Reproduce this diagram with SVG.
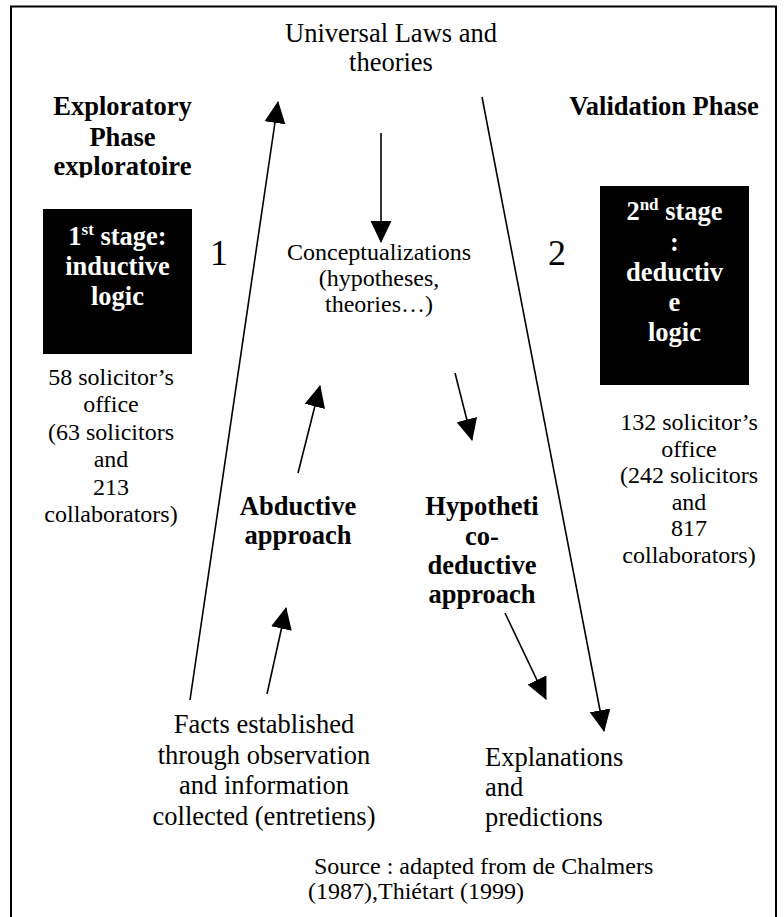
<svg xmlns="http://www.w3.org/2000/svg" width="784" height="917" viewBox="0 0 784 917" font-family="'Liberation Serif', 'Times New Roman', serif">
<style>
text{font-family:"Liberation Serif","Times New Roman",serif;fill:#000}
.t{font-size:26.5px}
.s{font-size:24px}
.b{font-size:26.5px;font-weight:bold}
.w{font-size:26.5px;font-weight:bold;fill:#fff}
.big{font-size:36px}
.m{text-anchor:middle}
.ln{stroke:#000;stroke-width:1.6;fill:none}
</style>
<defs>
<marker id="ah" markerUnits="userSpaceOnUse" markerWidth="22" markerHeight="22" refX="21" refY="10.5" orient="auto" viewBox="0 0 22 21">
<path d="M0,0 L22,10.5 L0,21 Z" fill="#000"/>
</marker>
<clipPath id="clipExp"><rect x="0" y="0" width="300" height="177.5"/></clipPath>
</defs>
<rect x="11" y="6.5" width="765" height="1000" fill="#fff" stroke="#000" stroke-width="2"/>

<g id="universal">
<text class="t m" x="391" y="42">Universal Laws and</text>
<text class="t m" x="391" y="71">theories</text>
</g>

<g id="exploratory" clip-path="url(#clipExp)">
<text class="b m" x="122.5" y="115">Exploratory</text>
<text class="b m" x="122.5" y="146">Phase</text>
<text class="b m" x="122.5" y="175">exploratoire</text>
</g>

<g id="validation">
<text class="b m" x="664" y="115">Validation Phase</text>
</g>

<g id="stage1">
<rect x="43" y="209" width="149" height="145" fill="#000"/>
<text class="w m" x="117.5" y="245">1<tspan font-size="17" dy="-10">st</tspan><tspan dy="10"> stage:</tspan></text>
<text class="w m" x="117.5" y="275">inductive</text>
<text class="w m" x="117.5" y="305">logic</text>
</g>

<g id="num1"><text class="big m" x="219" y="265">1</text></g>
<g id="num2"><text class="big m" x="557" y="265">2</text></g>

<g id="stage2">
<rect x="600" y="186" width="149" height="199" fill="#000"/>
<text class="w m" x="674.5" y="220">2<tspan font-size="17" dy="-10">nd</tspan><tspan dy="10"> stage</tspan></text>
<text class="w m" x="674.5" y="251">:</text>
<text class="w m" x="674.5" y="281">deductiv</text>
<text class="w m" x="674.5" y="311">e</text>
<text class="w m" x="674.5" y="341">logic</text>
</g>

<g id="sample1">
<text class="s m" x="111" y="385">58 solicitor’s</text>
<text class="s m" x="111" y="412.4">office</text>
<text class="s m" x="111" y="439.8">(63 solicitors</text>
<text class="s m" x="111" y="467.2">and</text>
<text class="s m" x="111" y="494.6">213</text>
<text class="s m" x="111" y="522">collaborators)</text>
</g>

<g id="sample2">
<text class="s m" x="689" y="430">132 solicitor’s</text>
<text class="s m" x="689" y="456.6">office</text>
<text class="s m" x="689" y="483.2">(242 solicitors</text>
<text class="s m" x="689" y="509.8">and</text>
<text class="s m" x="689" y="536.4">817</text>
<text class="s m" x="689" y="563">collaborators)</text>
</g>

<g id="conceptualizations">
<text class="s m" x="379" y="260">Conceptualizations</text>
<text class="s m" x="379" y="286">(hypotheses,</text>
<text class="s m" x="379" y="312">theories…)</text>
</g>

<g id="abductive">
<text class="b m" x="298" y="515">Abductive</text>
<text class="b m" x="298" y="544">approach</text>
</g>

<g id="hypothetico">
<text class="b m" x="482" y="515">Hypotheti</text>
<text class="b m" x="482" y="545">co-</text>
<text class="b m" x="482" y="574">deductive</text>
<text class="b m" x="482" y="603">approach</text>
</g>

<g id="facts">
<text class="t m" x="264" y="733">Facts established</text>
<text class="t m" x="264" y="763.5">through observation</text>
<text class="t m" x="264" y="794">and information</text>
<text class="t m" x="264" y="824.5">collected (entretiens)</text>
</g>

<g id="explanations">
<text class="t" x="485" y="766">Explanations</text>
<text class="t" x="485" y="796">and</text>
<text class="t" x="485" y="826">predictions</text>
</g>

<g id="source">
<text class="s" x="314" y="874">Source : adapted from de Chalmers</text>
<text class="s" x="308" y="899">(1987),Thiétart (1999)</text>
</g>

<g id="connectors">
<line class="ln" x1="190" y1="700" x2="278" y2="102" marker-end="url(#ah)"/>
<line class="ln" x1="267" y1="694" x2="286" y2="608" marker-end="url(#ah)"/>
<line class="ln" x1="298" y1="473" x2="320" y2="386" marker-end="url(#ah)"/>
<line class="ln" x1="381" y1="133" x2="381" y2="242" marker-end="url(#ah)"/>
<line class="ln" x1="455" y1="373" x2="472" y2="440" marker-end="url(#ah)"/>
<line class="ln" x1="505" y1="613" x2="546" y2="699" marker-end="url(#ah)"/>
<line class="ln" x1="482" y1="97" x2="604" y2="731" marker-end="url(#ah)"/>
</g>
</svg>
